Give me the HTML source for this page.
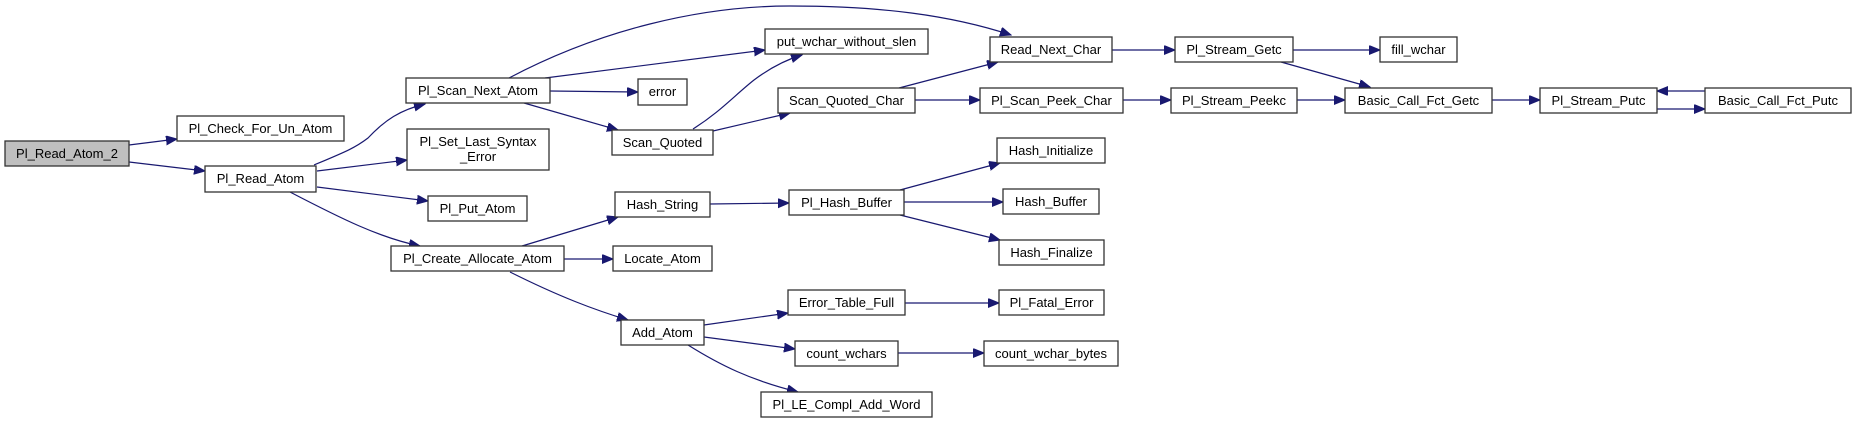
<!DOCTYPE html>
<html><head><meta charset="utf-8"><style>
html,body{margin:0;padding:0;background:#fff;}
svg{display:block;}
text{font-family:"Liberation Sans",Arial,sans-serif;font-size:13px;fill:#000;}
rect{stroke:#333;stroke-width:1.3;}
path{fill:none;stroke:#191970;stroke-width:1.2;}
</style></head><body>
<svg width="1856" height="423" viewBox="0 0 1856 423" xmlns="http://www.w3.org/2000/svg">
<defs>
<marker id="a" markerUnits="userSpaceOnUse" markerWidth="12" markerHeight="10" refX="11" refY="4.5" orient="auto">
<polygon points="0,0 11,4.5 0,9" fill="#191970" stroke="#191970"/>
</marker>
</defs>
<g marker-end="url(#a)">
<path d="M129,145 L177,139"/>
<path d="M129,162 L205,171"/>
<path d="M314,165 C345,152 355,148 368,138 C385,120 400,110 425,104"/>
<path d="M317,171 L407,160"/>
<path d="M317,187 L428,201"/>
<path d="M290,192 C340,218 380,238 420,246"/>
<path d="M509,78 C600,30 700,6 790,6 C880,6 950,15 1011,35"/>
<path d="M545,78 L765,50"/>
<path d="M550,91 L638,92"/>
<path d="M524,103 L618,130"/>
<path d="M693,129 C720,112 735,95 754,80 C770,68 785,60 802,55"/>
<path d="M713,131 L790,113"/>
<path d="M899,88 L998,62"/>
<path d="M915,100 L980,100"/>
<path d="M1112,50 L1175,50"/>
<path d="M1123,100 L1171,100"/>
<path d="M1293,50 L1380,50"/>
<path d="M1281,62 L1370,87"/>
<path d="M1297,100 L1345,100"/>
<path d="M1492,100 L1540,100"/>
<path d="M1705,91 L1657,91"/>
<path d="M1657,109 L1705,109"/>
<path d="M522,246 L618,217"/>
<path d="M564,259 L613,259"/>
<path d="M510,272 C560,297 595,310 628,320"/>
<path d="M710,204 L789,203"/>
<path d="M900,190 L1000,163"/>
<path d="M904,202 L1003,202"/>
<path d="M900,215 L1000,240"/>
<path d="M704,325 L788,313"/>
<path d="M704,337 L795,349"/>
<path d="M688,345 C720,365 750,380 798,392"/>
<path d="M905,303 L999,303"/>
<path d="M898,353 L984,353"/>
</g>
<g>
<rect x="5" y="141" width="124" height="25" fill="#bfbfbf"/><text x="67" y="158" text-anchor="middle">Pl_Read_Atom_2</text>
<rect x="177" y="116" width="167" height="25" fill="#fff"/><text x="260.5" y="133" text-anchor="middle">Pl_Check_For_Un_Atom</text>
<rect x="205" y="166" width="111" height="26" fill="#fff"/><text x="260.5" y="183" text-anchor="middle">Pl_Read_Atom</text>
<rect x="406" y="78" width="144" height="25" fill="#fff"/><text x="478" y="95" text-anchor="middle">Pl_Scan_Next_Atom</text>
<rect x="407" y="129" width="142" height="41" fill="#fff"/><text x="478" y="146" text-anchor="middle">Pl_Set_Last_Syntax</text><text x="478" y="161" text-anchor="middle">_Error</text>
<rect x="428" y="196" width="99" height="25" fill="#fff"/><text x="477.5" y="213" text-anchor="middle">Pl_Put_Atom</text>
<rect x="391" y="246" width="173" height="25" fill="#fff"/><text x="477.5" y="263" text-anchor="middle">Pl_Create_Allocate_Atom</text>
<rect x="765" y="29" width="163" height="25" fill="#fff"/><text x="846.5" y="46" text-anchor="middle">put_wchar_without_slen</text>
<rect x="638" y="79" width="49" height="26" fill="#fff"/><text x="662.5" y="96" text-anchor="middle">error</text>
<rect x="612" y="130" width="101" height="25" fill="#fff"/><text x="662.5" y="147" text-anchor="middle">Scan_Quoted</text>
<rect x="990" y="37" width="122" height="25" fill="#fff"/><text x="1051" y="54" text-anchor="middle">Read_Next_Char</text>
<rect x="778" y="88" width="137" height="25" fill="#fff"/><text x="846.5" y="105" text-anchor="middle">Scan_Quoted_Char</text>
<rect x="980" y="88" width="143" height="25" fill="#fff"/><text x="1051.5" y="105" text-anchor="middle">Pl_Scan_Peek_Char</text>
<rect x="1175" y="37" width="118" height="25" fill="#fff"/><text x="1234" y="54" text-anchor="middle">Pl_Stream_Getc</text>
<rect x="1171" y="88" width="126" height="25" fill="#fff"/><text x="1234" y="105" text-anchor="middle">Pl_Stream_Peekc</text>
<rect x="1380" y="37" width="77" height="25" fill="#fff"/><text x="1418.5" y="54" text-anchor="middle">fill_wchar</text>
<rect x="1345" y="88" width="147" height="25" fill="#fff"/><text x="1418.5" y="105" text-anchor="middle">Basic_Call_Fct_Getc</text>
<rect x="1540" y="88" width="117" height="25" fill="#fff"/><text x="1598.5" y="105" text-anchor="middle">Pl_Stream_Putc</text>
<rect x="1705" y="88" width="146" height="25" fill="#fff"/><text x="1778" y="105" text-anchor="middle">Basic_Call_Fct_Putc</text>
<rect x="997" y="138" width="108" height="25" fill="#fff"/><text x="1051" y="155" text-anchor="middle">Hash_Initialize</text>
<rect x="615" y="192" width="95" height="25" fill="#fff"/><text x="662.5" y="209" text-anchor="middle">Hash_String</text>
<rect x="789" y="190" width="115" height="25" fill="#fff"/><text x="846.5" y="207" text-anchor="middle">Pl_Hash_Buffer</text>
<rect x="1003" y="189" width="96" height="25" fill="#fff"/><text x="1051" y="206" text-anchor="middle">Hash_Buffer</text>
<rect x="999" y="240" width="105" height="25" fill="#fff"/><text x="1051.5" y="257" text-anchor="middle">Hash_Finalize</text>
<rect x="613" y="246" width="99" height="25" fill="#fff"/><text x="662.5" y="263" text-anchor="middle">Locate_Atom</text>
<rect x="788" y="290" width="117" height="25" fill="#fff"/><text x="846.5" y="307" text-anchor="middle">Error_Table_Full</text>
<rect x="999" y="290" width="105" height="25" fill="#fff"/><text x="1051.5" y="307" text-anchor="middle">Pl_Fatal_Error</text>
<rect x="621" y="320" width="83" height="25" fill="#fff"/><text x="662.5" y="337" text-anchor="middle">Add_Atom</text>
<rect x="795" y="341" width="103" height="25" fill="#fff"/><text x="846.5" y="358" text-anchor="middle">count_wchars</text>
<rect x="984" y="341" width="134" height="25" fill="#fff"/><text x="1051" y="358" text-anchor="middle">count_wchar_bytes</text>
<rect x="761" y="392" width="171" height="25" fill="#fff"/><text x="846.5" y="409" text-anchor="middle">Pl_LE_Compl_Add_Word</text>
</g>
</svg>
</body></html>
